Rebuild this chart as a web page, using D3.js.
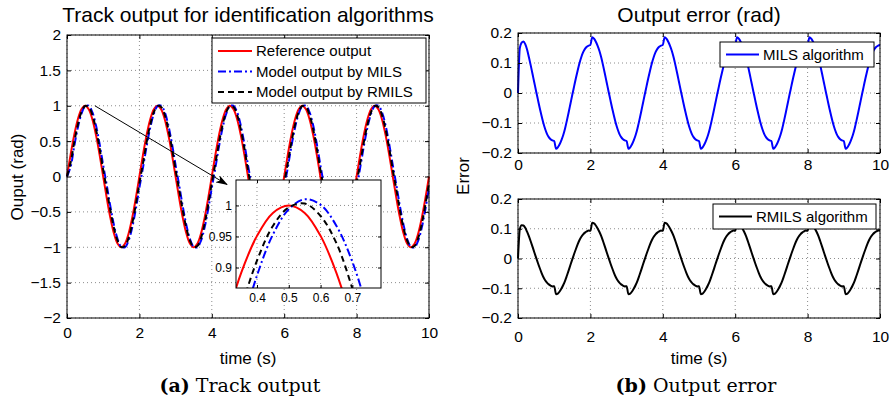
<!DOCTYPE html>
<html>
<head>
<meta charset="utf-8">
<script src="https://cdn.jsdelivr.net/npm/d3@7"></script>
<style>
body { margin: 0; background: #fff; }
text { font-family: "Liberation Sans", Arial, sans-serif; fill: #000; }
.cap { font-family: "DejaVu Serif", serif; }
</style>
</head>
<body>
<svg id="chart" width="894" height="400"></svg>
<script>
// sample grids (s)
var time = d3.range(0, 10.0001, 0.1).map(d => +d.toFixed(2))
var errTime = d3.range(0, 10.0001, 0.05).map(d => +d.toFixed(2))
var insetTime = [0.30, 0.35, 0.40, 0.45, 0.50, 0.55, 0.60, 0.65, 0.70, 0.75, 0.80]

// (a) track output, read every 0.1 s
var refOutput = [
  0, 0.309, 0.588, 0.809, 0.951, 1, 0.951, 0.809, 0.588, 0.309, 0, -0.309, -0.588, -0.809, -0.951, -1, -0.951, -0.809, -0.588, -0.309,
  0, 0.309, 0.588, 0.809, 0.951, 1, 0.951, 0.809, 0.588, 0.309, 0, -0.309, -0.588, -0.809, -0.951, -1, -0.951, -0.809, -0.588, -0.309,
  0, 0.309, 0.588, 0.809, 0.951, 1, 0.951, 0.809, 0.588, 0.309, 0, -0.309, -0.588, -0.809, -0.951, -1, -0.951, -0.809, -0.588, -0.309,
  0, 0.309, 0.588, 0.809, 0.951, 1, 0.951, 0.809, 0.588, 0.309, 0, -0.309, -0.588, -0.809, -0.951, -1, -0.951, -0.809, -0.588, -0.309,
  0, 0.309, 0.588, 0.809, 0.951, 1, 0.951, 0.809, 0.588, 0.309, 0, -0.309, -0.588, -0.809, -0.951, -1, -0.951, -0.809, -0.588, -0.309,
  0]
var milsOutput = [
  0, 0.137, 0.428, 0.691, 0.887, 0.994, 1.001, 0.909, 0.724, 0.463, 0.160, -0.126, -0.428, -0.691, -0.887, -0.994, -1.001, -0.909, -0.724, -0.463,
  -0.160, 0.126, 0.428, 0.691, 0.887, 0.994, 1.001, 0.909, 0.724, 0.463, 0.160, -0.126, -0.428, -0.691, -0.887, -0.994, -1.001, -0.909, -0.724, -0.463,
  -0.160, 0.126, 0.428, 0.691, 0.887, 0.994, 1.001, 0.909, 0.724, 0.463, 0.160, -0.126, -0.428, -0.691, -0.887, -0.994, -1.001, -0.909, -0.724, -0.463,
  -0.160, 0.126, 0.428, 0.691, 0.887, 0.994, 1.001, 0.909, 0.724, 0.463, 0.160, -0.126, -0.428, -0.691, -0.887, -0.994, -1.001, -0.909, -0.724, -0.463,
  -0.160, 0.126, 0.428, 0.691, 0.887, 0.994, 1.001, 0.909, 0.724, 0.463, 0.160, -0.126, -0.428, -0.691, -0.887, -0.994, -1.001, -0.909, -0.724, -0.463,
  -0.160]
var rmilsOutput = [
  0, 0.197, 0.485, 0.734, 0.911, 0.997, 0.983, 0.871, 0.669, 0.400, 0.093, -0.190, -0.485, -0.734, -0.911, -0.997, -0.983, -0.871, -0.669, -0.400,
  -0.093, 0.190, 0.485, 0.734, 0.911, 0.997, 0.983, 0.871, 0.669, 0.400, 0.093, -0.190, -0.485, -0.734, -0.911, -0.997, -0.983, -0.871, -0.669, -0.400,
  -0.093, 0.190, 0.485, 0.734, 0.911, 0.997, 0.983, 0.871, 0.669, 0.400, 0.093, -0.190, -0.485, -0.734, -0.911, -0.997, -0.983, -0.871, -0.669, -0.400,
  -0.093, 0.190, 0.485, 0.734, 0.911, 0.997, 0.983, 0.871, 0.669, 0.400, 0.093, -0.190, -0.485, -0.734, -0.911, -0.997, -0.983, -0.871, -0.669, -0.400,
  -0.093, 0.190, 0.485, 0.734, 0.911, 0.997, 0.983, 0.871, 0.669, 0.400, 0.093, -0.190, -0.485, -0.734, -0.911, -0.997, -0.983, -0.871, -0.669, -0.400,
  -0.093]

// zoomed view around the first peak
var insetRef = [0.809, 0.891, 0.951, 0.988, 1, 0.988, 0.951, 0.891, 0.809, 0.707, 0.588]
var insetMils = [0.691, 0.799, 0.887, 0.953, 0.994, 1.010, 1.001, 0.967, 0.909, 0.827, 0.724]
var insetRmils = [0.734, 0.833, 0.911, 0.967, 0.997, 1.003, 0.983, 0.939, 0.866, 0.775, 0.669]

// (b) output error, read every 0.05 s
var milsError = [
  0, 0.150, 0.168, 0.172, 0.163, 0.145, 0.120, 0.093, 0.064, 0.035, 0.006, -0.022, -0.050, -0.076, -0.100, -0.120, -0.136, -0.147, -0.154, -0.158,
  -0.160, -0.186, -0.181, -0.171, -0.157, -0.140, -0.118, -0.092, -0.064, -0.035, -0.006, 0.022, 0.050, 0.076, 0.100, 0.120, 0.136, 0.147, 0.154, 0.158,
  0.160, 0.186, 0.181, 0.171, 0.157, 0.140, 0.118, 0.092, 0.064, 0.035, 0.006, -0.022, -0.050, -0.076, -0.100, -0.120, -0.136, -0.147, -0.154, -0.158,
  -0.160, -0.186, -0.181, -0.171, -0.157, -0.140, -0.118, -0.092, -0.064, -0.035, -0.006, 0.022, 0.050, 0.076, 0.100, 0.120, 0.136, 0.147, 0.154, 0.158,
  0.160, 0.186, 0.181, 0.171, 0.157, 0.140, 0.118, 0.092, 0.064, 0.035, 0.006, -0.022, -0.050, -0.076, -0.100, -0.120, -0.136, -0.147, -0.154, -0.158,
  -0.160, -0.186, -0.181, -0.171, -0.157, -0.140, -0.118, -0.092, -0.064, -0.035, -0.006, 0.022, 0.050, 0.076, 0.100, 0.120, 0.136, 0.147, 0.154, 0.158,
  0.160, 0.186, 0.181, 0.171, 0.157, 0.140, 0.118, 0.092, 0.064, 0.035, 0.006, -0.022, -0.050, -0.076, -0.100, -0.120, -0.136, -0.147, -0.154, -0.158,
  -0.160, -0.186, -0.181, -0.171, -0.157, -0.140, -0.118, -0.092, -0.064, -0.035, -0.006, 0.022, 0.050, 0.076, 0.100, 0.120, 0.136, 0.147, 0.154, 0.158,
  0.160, 0.186, 0.181, 0.171, 0.157, 0.140, 0.118, 0.092, 0.064, 0.035, 0.006, -0.022, -0.050, -0.076, -0.100, -0.120, -0.136, -0.147, -0.154, -0.158,
  -0.160, -0.186, -0.181, -0.171, -0.157, -0.140, -0.118, -0.092, -0.064, -0.035, -0.006, 0.022, 0.050, 0.076, 0.100, 0.120, 0.136, 0.147, 0.154, 0.158,
  0.160]
var rmilsError = [
  0, 0.098, 0.112, 0.111, 0.103, 0.090, 0.075, 0.058, 0.040, 0.021, 0.003, -0.015, -0.032, -0.048, -0.062, -0.073, -0.081, -0.087, -0.091, -0.094,
  -0.093, -0.120, -0.118, -0.111, -0.101, -0.089, -0.075, -0.058, -0.040, -0.021, -0.003, 0.015, 0.032, 0.048, 0.062, 0.073, 0.081, 0.087, 0.091, 0.094,
  0.093, 0.120, 0.118, 0.111, 0.101, 0.089, 0.075, 0.058, 0.040, 0.021, 0.003, -0.015, -0.032, -0.048, -0.062, -0.073, -0.081, -0.087, -0.091, -0.094,
  -0.093, -0.120, -0.118, -0.111, -0.101, -0.089, -0.075, -0.058, -0.040, -0.021, -0.003, 0.015, 0.032, 0.048, 0.062, 0.073, 0.081, 0.087, 0.091, 0.094,
  0.093, 0.120, 0.118, 0.111, 0.101, 0.089, 0.075, 0.058, 0.040, 0.021, 0.003, -0.015, -0.032, -0.048, -0.062, -0.073, -0.081, -0.087, -0.091, -0.094,
  -0.093, -0.120, -0.118, -0.111, -0.101, -0.089, -0.075, -0.058, -0.040, -0.021, -0.003, 0.015, 0.032, 0.048, 0.062, 0.073, 0.081, 0.087, 0.091, 0.094,
  0.093, 0.120, 0.118, 0.111, 0.101, 0.089, 0.075, 0.058, 0.040, 0.021, 0.003, -0.015, -0.032, -0.048, -0.062, -0.073, -0.081, -0.087, -0.091, -0.094,
  -0.093, -0.120, -0.118, -0.111, -0.101, -0.089, -0.075, -0.058, -0.040, -0.021, -0.003, 0.015, 0.032, 0.048, 0.062, 0.073, 0.081, 0.087, 0.091, 0.094,
  0.093, 0.120, 0.118, 0.111, 0.101, 0.089, 0.075, 0.058, 0.040, 0.021, 0.003, -0.015, -0.032, -0.048, -0.062, -0.073, -0.081, -0.087, -0.091, -0.094,
  -0.093, -0.120, -0.118, -0.111, -0.101, -0.089, -0.075, -0.058, -0.040, -0.021, -0.003, 0.015, 0.032, 0.048, 0.062, 0.073, 0.081, 0.087, 0.091, 0.094,
  0.093]

// tick labels
var timeTicks = [0, 2, 4, 6, 8, 10]
var outputTicks = [-2, -1.5, -1, -0.5, 0, 0.5, 1, 1.5, 2]
var errorTicks = [-0.2, -0.1, 0, 0.1, 0.2]
var insetXTicks = [0.4, 0.5, 0.6, 0.7]
var insetYTicks = [0.9, 0.95, 1]

var legendA = ["Reference output", "Model output by MILS", "Model output by RMILS"]

var svg = d3.select("#chart")
var grid = { stroke: "#8c8c8c", dash: "1,3" }

// dotted grid of one axes
function frame(g, x, y, xt, yt) {
  var [xl, xr] = x.range(), [yb, yt0] = y.range()
  g.append("g").selectAll("line").data(xt).join("line")
    .attr("x1", d => x(d)).attr("x2", d => x(d)).attr("y1", yb).attr("y2", yt0)
    .attr("stroke", grid.stroke).attr("stroke-dasharray", grid.dash)
  g.append("g").selectAll("line").data(yt).join("line")
    .attr("y1", d => y(d)).attr("y2", d => y(d)).attr("x1", xl).attr("x2", xr)
    .attr("stroke", grid.stroke).attr("stroke-dasharray", grid.dash)
}
// ticks on all four sides, labels and the box
function axes(g, x, y, xt, yt, o) {
  var [xl, xr] = x.range(), [yb, yt0] = y.range()
  var fmt = d3.format("")
  g.append("g").attr("transform", `translate(0,${yb})`)
    .call(d3.axisBottom(x).tickValues(xt).tickSize(-o.tick).tickPadding(o.padX).tickFormat(fmt))
  g.append("g").attr("transform", `translate(${xl},0)`)
    .call(d3.axisLeft(y).tickValues(yt).tickSize(-o.tick).tickPadding(o.padY).tickFormat(fmt))
  g.append("g").attr("transform", `translate(0,${yt0})`)
    .call(d3.axisTop(x).tickValues(xt).tickSize(-o.tick).tickFormat(""))
  g.append("g").attr("transform", `translate(${xr},0)`)
    .call(d3.axisRight(y).tickValues(yt).tickSize(-o.tick).tickFormat(""))
  g.selectAll(".domain").remove()
  g.selectAll("g").attr("font-size", o.font)
  g.append("rect").attr("x", xl).attr("y", yt0).attr("width", xr - xl).attr("height", yb - yt0)
    .attr("fill", "none").attr("stroke", "#000").attr("stroke-width", 1)
}

// ---------- (a) Track output ----------
var xA = d3.scaleLinear().domain([0, 10]).range([67, 429])
var yA = d3.scaleLinear().domain([-2, 2]).range([318, 35])
var gA = svg.append("g")
frame(gA, xA, yA, timeTicks, outputTicks)

var lineA = (vals) => d3.line().curve(d3.curveCatmullRom.alpha(0.5))
  .x((d, i) => xA(time[i])).y(d => yA(d))(vals)

var styles = [
  { color: "#ff0000", dash: null },
  { color: "#0000ff", dash: "8,3,2,3" },
  { color: "#000000", dash: "6,4" }
]
;[refOutput, milsOutput, rmilsOutput].forEach((vals, k) => {
  gA.append("path").attr("d", lineA(vals)).attr("fill", "none")
    .attr("stroke", styles[k].color).attr("stroke-width", 2)
    .attr("stroke-dasharray", styles[k].dash)
})
axes(gA, xA, yA, timeTicks, outputTicks, { tick: 4, padX: 9, padY: 6, font: "15.5px" })

gA.append("text").attr("x", 248).attr("y", 22).attr("text-anchor", "middle")
  .attr("font-size", "21px").text("Track output for identification algorithms")
gA.append("text").attr("x", 248).attr("y", 364).attr("text-anchor", "middle")
  .attr("font-size", "17px").text("time (s)")
gA.append("text").attr("transform", "translate(23,177) rotate(-90)").attr("text-anchor", "middle")
  .attr("font-size", "17px").text("Ouput (rad)")

// legend
var legA = gA.append("g")
legA.append("rect").attr("x", 212).attr("y", 38).attr("width", 214).attr("height", 65)
  .attr("fill", "#fff").attr("stroke", "#000")
legendA.forEach((name, k) => {
  var ly = 51 + k * 20.5
  legA.append("line").attr("x1", 218).attr("x2", 252).attr("y1", ly).attr("y2", ly)
    .attr("stroke", styles[k].color).attr("stroke-width", 2).attr("stroke-dasharray", styles[k].dash)
  legA.append("text").attr("x", 256).attr("y", ly).attr("dy", "0.35em")
    .attr("font-size", "15px").text(name)
})

// arrow pointing to the inset
svg.append("defs").append("marker").attr("id", "head")
  .attr("viewBox", "0 0 12 8").attr("refX", 11).attr("refY", 4)
  .attr("markerWidth", 12).attr("markerHeight", 8).attr("markerUnits", "userSpaceOnUse")
  .attr("orient", "auto")
  .append("path").attr("d", "M0,0 L12,4 L0,8 L3,4 Z").attr("fill", "#000")
gA.append("line").attr("x1", xA(0.77)).attr("y1", yA(1.0)).attr("x2", xA(4.42)).attr("y2", yA(-0.113))
  .attr("stroke", "#000").attr("stroke-width", 1).attr("marker-end", "url(#head)")

// inset
var xI = d3.scaleLinear().domain([0.334, 0.79]).range([236, 381])
var yI = d3.scaleLinear().domain([0.867, 1.041]).range([288, 180])
var gI = svg.append("g")
gI.append("rect").attr("x", 236).attr("y", 180).attr("width", 145).attr("height", 108).attr("fill", "#fff")
frame(gI, xI, yI, insetXTicks, insetYTicks)
svg.append("clipPath").attr("id", "insetClip").append("rect")
  .attr("x", 236).attr("y", 180).attr("width", 145).attr("height", 108)
var lineI = (vals) => d3.line().curve(d3.curveCatmullRom.alpha(0.5))
  .x((d, i) => xI(insetTime[i])).y(d => yI(d))(vals)
;[insetRef, insetMils, insetRmils].forEach((vals, k) => {
  gI.append("path").attr("d", lineI(vals)).attr("fill", "none").attr("clip-path", "url(#insetClip)")
    .attr("stroke", styles[k].color).attr("stroke-width", 2).attr("stroke-dasharray", styles[k].dash)
})
axes(gI, xI, yI, insetXTicks, insetYTicks, { tick: 3, padX: 5, padY: 4, font: "12px" })

// ---------- (b) Output error ----------
var xB = d3.scaleLinear().domain([0, 10]).range([518, 880])
var yB1 = d3.scaleLinear().domain([-0.2, 0.2]).range([153, 33])
var yB2 = d3.scaleLinear().domain([-0.2, 0.2]).range([318, 199])

function errPanel(y, vals, color, name, box, padX) {
  var g = svg.append("g")
  frame(g, xB, y, timeTicks, errorTicks)
  g.append("path").attr("fill", "none").attr("stroke", color).attr("stroke-width", 2)
    .attr("d", d3.line().curve(d3.curveMonotoneX).x((d, i) => xB(errTime[i])).y(d => y(d))(vals))
  axes(g, xB, y, timeTicks, errorTicks, { tick: 4, padX: padX, padY: 6, font: "15.5px" })
  g.append("rect").attr("x", box[0]).attr("y", box[1]).attr("width", box[2]).attr("height", box[3])
    .attr("fill", "#fff").attr("stroke", "#000")
  var ly = box[1] + box[3] / 2
  g.append("line").attr("x1", box[0] + 6).attr("x2", box[0] + 39).attr("y1", ly).attr("y2", ly)
    .attr("stroke", color).attr("stroke-width", 2)
  g.append("text").attr("x", box[0] + 43).attr("y", ly).attr("dy", "0.35em")
    .attr("font-size", "15px").text(name)
}
errPanel(yB1, milsError, "#0000ff", "MILS algorithm", [720, 42, 154, 25], 6)
errPanel(yB2, rmilsError, "#000000", "RMILS algorithm", [713, 204, 163, 25], 13)

svg.append("text").attr("x", 699).attr("y", 22).attr("text-anchor", "middle")
  .attr("font-size", "21px").text("Output error (rad)")
svg.append("text").attr("x", 699).attr("y", 364).attr("text-anchor", "middle")
  .attr("font-size", "17px").text("time (s)")
svg.append("text").attr("transform", "translate(469,176) rotate(-90)").attr("text-anchor", "middle")
  .attr("font-size", "17px").text("Error")

// captions
var capA = svg.append("text").attr("class", "cap").attr("x", 240).attr("y", 392)
  .attr("text-anchor", "middle").attr("font-size", "19px")
capA.append("tspan").attr("font-weight", "bold").text("(a)")
capA.append("tspan").text(" Track output")
var capB = svg.append("text").attr("class", "cap").attr("x", 696).attr("y", 392)
  .attr("text-anchor", "middle").attr("font-size", "19px")
capB.append("tspan").attr("font-weight", "bold").text("(b)")
capB.append("tspan").text(" Output error")
</script>
</body>
</html>
